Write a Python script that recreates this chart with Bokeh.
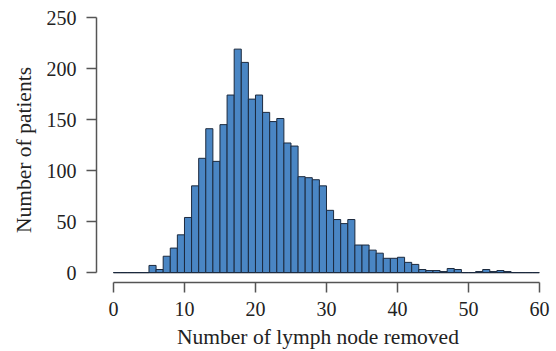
from bokeh.plotting import figure
from bokeh.models import Range1d, FixedTicker
from bokeh.embed import file_html
from bokeh.resources import INLINE

bin_left = list(range(0, 60))
counts = [0, 0, 0, 0, 0, 7, 3, 16, 24, 37,
          54, 85, 112, 141, 109, 145, 174, 219, 206, 170,
          174, 157, 148, 151, 127, 124, 94, 93, 91, 85,
          61, 52, 48, 52, 27, 27, 22, 19, 14, 14,
          15, 10, 8, 3, 2, 2, 1, 4, 3, 0,
          0, 1, 3, 1, 2, 1, 0, 0, 0, 0]
x_ticks = [0, 10, 20, 30, 40, 50, 60]
y_ticks = [0, 50, 100, 150, 200, 250]

p = figure(width=556, height=351, output_backend="svg", toolbar_location=None,
           x_range=Range1d(-2.39, 60), y_range=Range1d(-9.73, 250),
           min_border_left=96, min_border_right=17, min_border_top=17, min_border_bottom=67)
p.outline_line_color = None
p.grid.visible = False
p.background_fill_color = "white"
p.border_fill_color = "white"

bin_right = [b + 1 for b in bin_left]
# bottom edges of every bin (visible for empty bins, as in the original)
p.segment(x0=bin_left, x1=bin_right, y0=0, y1=0, line_color="#444444", line_width=1.2)
p.quad(left=bin_left, right=bin_right, bottom=0, top=counts,
       fill_color="#4a86c4", line_color="#1c2a3e", line_width=1)

font = "Liberation Serif"
for ax in (p.xaxis[0], p.yaxis[0]):
    ax.axis_line_color = "#555555"
    ax.axis_line_width = 1.5
    ax.major_tick_line_color = "#555555"
    ax.major_tick_line_width = 1.5
    ax.major_tick_out = 10
    ax.major_tick_in = 0
    ax.minor_tick_line_color = None
    ax.major_label_text_font = font
    ax.major_label_text_font_size = "20px"
    ax.major_label_text_color = "#222222"
    ax.axis_label_text_font = font
    ax.axis_label_text_font_size = "21.5px"
    ax.axis_label_text_font_style = "normal"
    ax.axis_label_text_color = "#222222"

p.xaxis[0].ticker = FixedTicker(ticks=x_ticks)
p.yaxis[0].ticker = FixedTicker(ticks=y_ticks)
p.xaxis[0].bounds = (0, 60)
p.yaxis[0].bounds = (0, 250)
p.xaxis[0].axis_label = "Number of lymph node removed"
p.yaxis[0].axis_label = "Number of patients"
p.xaxis[0].major_label_standoff = 9
p.yaxis[0].major_label_standoff = 10
p.xaxis[0].axis_label_standoff = 6
p.yaxis[0].axis_label_standoff = 8

open("out.html", "w").write(file_html(p, INLINE))
